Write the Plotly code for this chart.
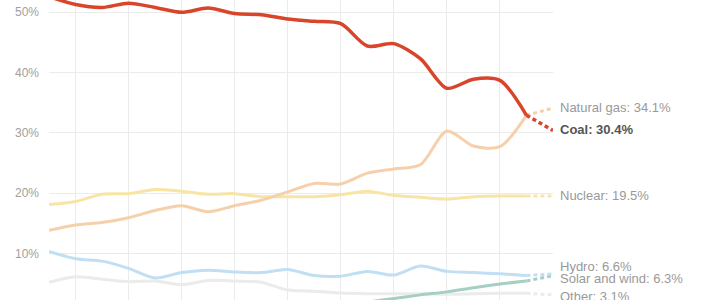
import plotly.graph_objects as go

years = list(range(1997, 2017))
coal = [52.6, 51.3, 50.8, 51.5, 50.8, 50.0, 50.7, 49.8, 49.6, 48.9, 48.5, 48.1, 44.4, 44.8, 42.3, 37.4, 38.9, 38.7, 32.9, 30.4]
gas = [13.8, 14.7, 15.1, 15.9, 17.1, 17.9, 16.9, 17.9, 18.8, 20.2, 21.6, 21.5, 23.3, 24.0, 24.7, 30.3, 27.8, 27.7, 32.9, 34.1]
nuclear = [18.1, 18.6, 19.8, 19.9, 20.6, 20.3, 19.8, 19.9, 19.4, 19.4, 19.4, 19.7, 20.3, 19.6, 19.3, 19.0, 19.4, 19.5, 19.5, 19.5]
hydro = [10.3, 9.1, 8.7, 7.5, 5.9, 6.8, 7.2, 6.9, 6.8, 7.3, 6.3, 6.2, 7.0, 6.4, 7.9, 7.0, 6.8, 6.6, 6.3, 6.6]
solar_wind = [0.1, 0.1, 0.1, 0.2, 0.2, 0.3, 0.3, 0.4, 0.5, 0.7, 0.8, 1.3, 1.9, 2.5, 3.1, 3.6, 4.3, 4.9, 5.4, 6.3]
other = [5.2, 6.1, 5.7, 5.3, 5.4, 4.8, 5.5, 5.4, 5.2, 3.9, 3.7, 3.4, 3.3, 3.3, 3.3, 3.2, 3.3, 3.35, 3.35, 3.1]
y_ticks = [10, 20, 30, 40, 50]
y_tick_labels = ["10%", "20%", "30%", "40%", "50%"]

series = [
    ("Other", other, "#ebebeb", 3, "#999999", False, -2),
    ("Solar and wind", solar_wind, "#a5cfc5", 3, "#999999", False, -3),
    ("Hydro", hydro, "#c0dff3", 3, "#999999", False, 7),
    ("Nuclear", nuclear, "#f8e5a5", 3, "#999999", False, 1),
    ("Natural gas", gas, "#f6d0ab", 3, "#999999", False, 1),
    ("Coal", coal, "#d9452b", 3.5, "#555555", True, 1),
]

fig = go.Figure()
annotations = []
for name, vals, color, w, tcolor, bold, yshift in series:
    fig.add_trace(go.Scatter(
        x=years[:-1], y=vals[:-1], mode="lines",
        line=dict(color=color, width=w, shape="spline", smoothing=0.8),
        hoverinfo="skip", showlegend=False))
    fig.add_trace(go.Scatter(
        x=years[-2:], y=vals[-2:], mode="lines",
        line=dict(color=color, width=w, dash="4px,3px"),
        hoverinfo="skip", showlegend=False))
    label = f"{name}: {vals[-1]}%"
    if bold:
        label = f"<b>{label}</b>"
    annotations.append(dict(
        x=1, xref="paper", y=vals[-1], yref="y", xanchor="left", yanchor="middle",
        xshift=5, yshift=yshift, text=label, showarrow=False,
        font=dict(family="Liberation Sans, Arial, sans-serif", size=13, color=tcolor)))

fig.update_layout(
    width=704, height=300,
    margin=dict(l=49, r=151, t=0, b=0),
    paper_bgcolor="white", plot_bgcolor="white",
    annotations=annotations,
    xaxis=dict(range=[1997, 2016], tickvals=list(range(1998, 2017, 2)),
               showticklabels=False, showgrid=True, gridcolor="#ebebeb", gridwidth=1,
               zeroline=False, showline=False, ticks=""),
    yaxis=dict(range=[2.25, 52.04], tickmode="array", tickvals=y_ticks, ticktext=y_tick_labels,
               showgrid=True, gridcolor="#ebebeb", gridwidth=1, zeroline=False,
               showline=False, ticks="", ticklabelstandoff=9,
               tickfont=dict(family="Liberation Sans, Arial, sans-serif", size=12, color="#a0a0a0")),
)

fig.write_html("out.html")
